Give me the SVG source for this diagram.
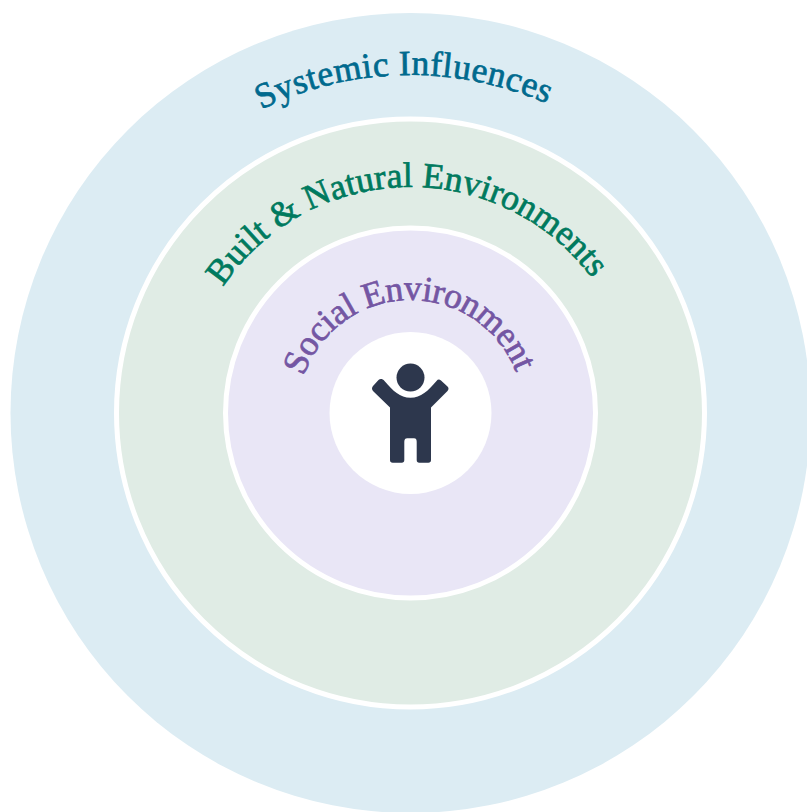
<svg xmlns="http://www.w3.org/2000/svg" width="807" height="812" viewBox="0 0 807 812">
<style>
.lbl{font-family:"Liberation Serif","DejaVu Serif",serif;font-size:35.500px;text-anchor:middle;stroke-width:.7px}
.ring{stroke:#fff;stroke-width:5}
</style>
<defs>
<path id="p1" d="M72.500 413A338 338 0 0 1 748.500 413" transform="rotate(-1.200 410.500 413)"/>
<path id="p2" d="M184.500 413A226 226 0 0 1 636.500 413" transform="rotate(-1.300 410.500 413)"/>
<path id="p3" d="M297.500 413A113 113 0 0 1 523.500 413" transform="rotate(-1 410.500 413)"/>
</defs>
<rect width="807" height="812" fill="#fff"/>
<g id="systemic"><circle cx="410.500" cy="413" r="400" fill="#dcecf3"/>
<text class="lbl" fill="#006a8e" stroke="#006a8e" textLength="295" lengthAdjust="spacing"><textPath href="#p1" startOffset="50%">Systemic Influences</textPath></text></g>
<g id="built"><circle class="ring" cx="410.500" cy="413" r="294" fill="#e0ece5"/>
<text class="lbl" fill="#007a5e" stroke="#007a5e" textLength="432" lengthAdjust="spacing"><textPath href="#p2" startOffset="50%">Built &amp; Natural Environments</textPath></text></g>
<g id="social"><circle class="ring" cx="410.500" cy="413" r="185" fill="#e9e6f6"/>
<text class="lbl" fill="#7456a3" stroke="#7456a3" textLength="276" lengthAdjust="spacing"><textPath href="#p3" startOffset="50%">Social Environment</textPath></text></g>
<g id="child"><circle cx="410.500" cy="413" r="81" fill="#fff"/>
<circle cx="410.500" cy="377.600" r="14" fill="#2d374d"/>
<path fill="#2d374d" d="M390 407.500V460Q390 462.700 392.700 462.700H401.700Q404.300 462.700 404.300 460V441.700Q404.300 438.300 407.300 438.300H414Q416.700 438.300 416.700 441.700V460Q416.700 462.700 419.300 462.700H428.300Q431 462.700 431 460V407.500L447.500 391Q449.500 388.500 447.500 386.500L441 380.500Q438.500 378.500 436.500 381C428 391 421 397.700 410.500 397.700S393 391 384.500 381C382.500 378.500 380 378.500 378.500 380L373 386Q371 388.500 373 391Z"/></g>
<g id="connectors"/>
</svg>
